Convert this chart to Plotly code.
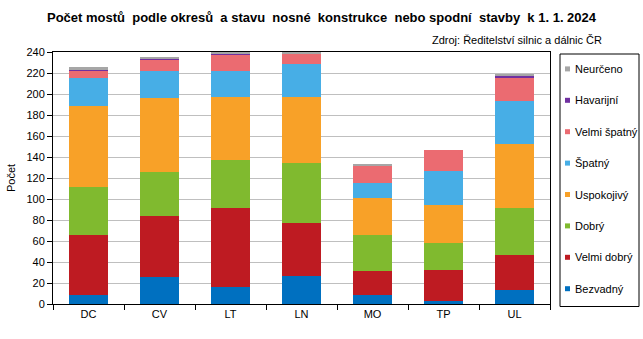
import plotly.graph_objects as go

# Bridge counts by district and condition of the load-bearing / substructure
districts = ["DC", "CV", "LT", "LN", "MO", "TP", "UL"]

bezvadny = [9, 26, 16, 27, 9, 3, 13]
velmi_dobry = [57, 58, 75, 50, 22, 29, 34]
dobry = [45, 42, 46, 57, 35, 26, 44]
uspokojivy = [78, 70, 60, 63, 35, 36, 61]
spatny = [26, 26, 25, 32, 14, 33, 41]
velmi_spatny = [7, 11, 15, 9, 17, 20, 22]
havarijni = [1, 1, 2, 0, 0, 0, 3]
neurceno = [3, 1, 1, 2, 1, 0, 1]

series_names = ["Bezvadný", "Velmi dobrý", "Dobrý", "Uspokojivý",
                "Špatný", "Velmi špatný", "Havarijní", "Neurčeno"]
series_values = [bezvadny, velmi_dobry, dobry, uspokojivy,
                 spatny, velmi_spatny, havarijni, neurceno]
series_colors = ["#0070C0", "#BE1B22", "#80BA2F", "#F8A128",
                 "#47AEE6", "#EB6B71", "#7030A0", "#A6A6A6"]

y_ticks = list(range(0, 241, 20))

W, H = 643, 339
ML, MR, MT, MB = 53, 93, 52, 35
PW, PH = W - ML - MR, H - MT - MB
FONT = "Liberation Sans, Arial, sans-serif"


def px_x(x):
    return (x - ML) / PW


def px_y(y):
    return (H - MB - y) / PH


fig = go.Figure()
for name, vals, col in zip(series_names, series_values, series_colors):
    fig.add_trace(go.Bar(name=name, x=districts, y=vals,
                         marker=dict(color=col, line=dict(width=0)),
                         showlegend=False))

# Legend box on the right, drawn as shapes and text
shapes = [dict(type="rect", xref="paper", yref="paper",
               x0=px_x(560), x1=px_x(639), y0=px_y(306.5), y1=px_y(54),
               line=dict(color="black", width=1), fillcolor="white")]
annotations = []
row_y = [288.7 - 31.4 * i for i in range(len(series_names))]
for name, col, yy in zip(series_names, series_colors, row_y):
    shapes.append(dict(type="rect", xref="paper", yref="paper",
                       x0=px_x(565), x1=px_x(570), y0=px_y(yy + 2.5), y1=px_y(yy - 2.5),
                       line=dict(width=0), fillcolor=col))
    annotations.append(dict(text=name, xref="paper", yref="paper",
                            x=px_x(573), y=px_y(yy), xanchor="left", yanchor="middle",
                            showarrow=False, font=dict(size=11, color="black", family=FONT)))

annotations.append(dict(text="Zdroj: Ředitelství silnic a dálnic ČR",
                        xref="paper", yref="paper", x=px_x(604), y=px_y(40),
                        xanchor="right", yanchor="middle", showarrow=False,
                        font=dict(size=11, color="black", family=FONT)))

fig.update_layout(
    width=W, height=H,
    margin=dict(l=ML, r=MR, t=MT, b=MB),
    barmode="stack", bargap=0.44,
    plot_bgcolor="white", paper_bgcolor="white",
    font=dict(family=FONT, size=11, color="black"),
    title=dict(text="<b>Počet mostů  podle okresů  a stavu  nosné  konstrukce  nebo spodní  stavby  k 1. 1. 2024</b>",
               x=0.5, xanchor="center", y=1 - 17 / H, yanchor="middle",
               font=dict(size=13, color="black", family=FONT)),
    shapes=shapes,
    annotations=annotations,
    showlegend=False,
)
fig.update_xaxes(type="category", showline=True, linecolor="black", linewidth=1, mirror=True,
                 ticks="outside", tickson="boundaries", ticklen=5, tickcolor="black",
                 showgrid=False, tickfont=dict(size=11))
fig.update_yaxes(range=[0, 240], tickvals=y_ticks, showline=True, linecolor="black",
                 linewidth=1, mirror=True, ticks="outside", ticklen=5, tickcolor="black",
                 showgrid=True, gridcolor="#BFBFBF", gridwidth=1, zeroline=False,
                 tickfont=dict(size=11),
                 title=dict(text="Počet", font=dict(size=11), standoff=8))

fig.write_html("out.html")
